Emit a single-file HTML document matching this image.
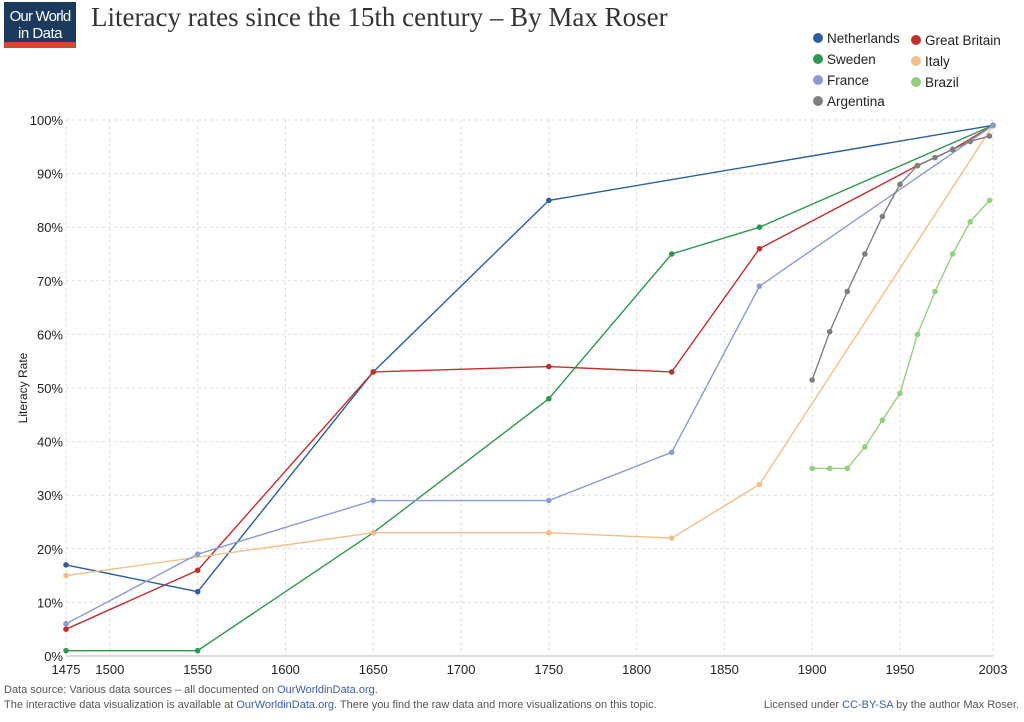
<!DOCTYPE html>
<html><head><meta charset="utf-8"><style>
body{margin:0;background:#fff;width:1024px;height:717px;overflow:hidden;font-family:"Liberation Sans",sans-serif}
svg text{font-family:"Liberation Sans",sans-serif}
</style></head><body>
<svg id="chart" width="1024" height="717">
<g>
<rect x="4" y="2" width="72" height="40" fill="#1a3a5e"/>
<rect x="4" y="42" width="72" height="6" fill="#d8442c"/>
<text x="40" y="21" fill="#fff" font-size="15" text-anchor="middle" letter-spacing="-0.8">Our World</text>
<text x="40" y="38" fill="#fff" font-size="15" text-anchor="middle" letter-spacing="-0.5">in Data</text>
</g>
<text x="91" y="26" font-size="27" fill="#333" style='font-family:"Liberation Serif",serif'>Literacy rates since the 15th century – By Max Roser</text>
<g id="grid"></g><g id="axes"></g><g id="series"></g><g id="legend"></g>
<text x="27" y="388" font-size="12" fill="#222" transform="rotate(-90 27 388)" text-anchor="middle">Literacy Rate</text>
<text x="4" y="693" font-size="11" fill="#555">Data source: Various data sources – all documented on <tspan fill="#3b5fa8">OurWorldinData.org.</tspan></text>
<text x="4" y="708" font-size="11" fill="#555">The interactive data visualization is available at <tspan fill="#3b5fa8">OurWorldinData.org</tspan>. There you find the raw data and more visualizations on this topic.</text>
<text x="1019" y="708" font-size="11" fill="#555" text-anchor="end">Licensed under <tspan fill="#3b5fa8">CC-BY-SA</tspan> by the author Max Roser.</text>
</svg>
<script>
const xTicks=[1475,1500,1550,1600,1650,1700,1750,1800,1850,1900,1950,2003];
const yTicks=[0,10,20,30,40,50,60,70,80,90,100];
const seriesNames=["Netherlands","Great Britain","Sweden","Italy","France","Brazil","Argentina"];
const seriesColors=["#2e5e9e","#c0302e","#2e9650","#f1bf8a","#8c9bd0","#92d07e","#7f7f7f"];
const nlYears=[1475,1550,1650,1750,2003];
const nlVals=[17,12,53,85,99];
const gbYears=[1475,1550,1650,1750,1820,1870,1960,1980,2003];
const gbVals=[5,16,53,54,53,76,91.5,94.5,99];
const seYears=[1475,1550,1650,1750,1820,1870,2003];
const seVals=[1,1,23,48,75,80,99];
const itYears=[1475,1650,1750,1820,1870,2003];
const itVals=[15,23,23,22,32,99];
const frYears=[1475,1550,1650,1750,1820,1870,2003];
const frVals=[6,19,29,29,38,69,99];
const brYears=[1900,1910,1920,1930,1940,1950,1960,1970,1980,1990,2001];
const brVals=[35,35,35,39,44,49,60,68,75,81,85];
const arYears=[1900,1910,1920,1930,1940,1950,1960,1970,1980,1990,2001];
const arVals=[51.5,60.5,68,75,82,88,91.5,93,94.5,96,97];
const allYears=[nlYears,gbYears,seYears,itYears,frYears,brYears,arYears];
const allVals=[nlVals,gbVals,seVals,itVals,frVals,brVals,arVals];
const NS="http://www.w3.org/2000/svg";
const X0=66,X1=993,Y0=656,Y1=120;
const xs=y=>X0+(y-1475)/(2003-1475)*(X1-X0);
const ys=v=>Y0-v/100*(Y0-Y1);
function mk(t,a,p){const e=document.createElementNS(NS,t);for(const k in a)e.setAttribute(k,a[k]);p.appendChild(e);return e;}
const grid=document.getElementById('grid'),axes=document.getElementById('axes'),ser=document.getElementById('series'),leg=document.getElementById('legend');
yTicks.forEach(v=>{
 const l=mk('line',{x1:X0,x2:X1,y1:ys(v),y2:ys(v),stroke:v==0?'#bbb':'#ddd','stroke-dasharray':v==0?'':'3,3'},grid);
 
 
 const t=mk('text',{x:X0-3,y:ys(v)+5,'font-size':13,'text-anchor':'end',fill:'#222'},axes);t.textContent=v+'%';
 
 
});
xTicks.forEach(y=>{
 const l=mk('line',{x1:xs(y),x2:xs(y),y1:Y1,y2:Y0,stroke:'#ddd','stroke-dasharray':'3,3'},grid);
 
 
 const t=mk('text',{x:xs(y),y:Y0+18,'font-size':13,'text-anchor':'middle',fill:'#222'},axes);t.textContent=y;
 
 
});
allYears.forEach((yr,i)=>{
 const g=mk('g',{},ser);
 
 
 const pts=yr.map((y,j)=>xs(y)+','+ys(allVals[i][j])).join(' ');
 mk('polyline',{points:pts,fill:'none',stroke:seriesColors[i],'stroke-width':1.4},g);
 yr.forEach((y,j)=>{
  const c=mk('circle',{cx:xs(y),cy:ys(allVals[i][j]),r:2.8,fill:seriesColors[i]},g);
  
  
 });
});
const legPos=[[818,38],[916,40],[818,59],[916,61],[818,80],[916,82],[818,101]];
const legOrder=[0,1,2,3,4,5,6];
legOrder.forEach((i,k)=>{
 const g=mk('g',{},leg);
 
 
 const [lx,ly]=legPos[k];
 mk('circle',{cx:lx,cy:ly,r:5,fill:seriesColors[i]},g);
 const t=mk('text',{x:lx+9,y:ly+5,'font-size':13.5,fill:'#222'},g);t.textContent=seriesNames[i];
});
</script>
</body></html>
